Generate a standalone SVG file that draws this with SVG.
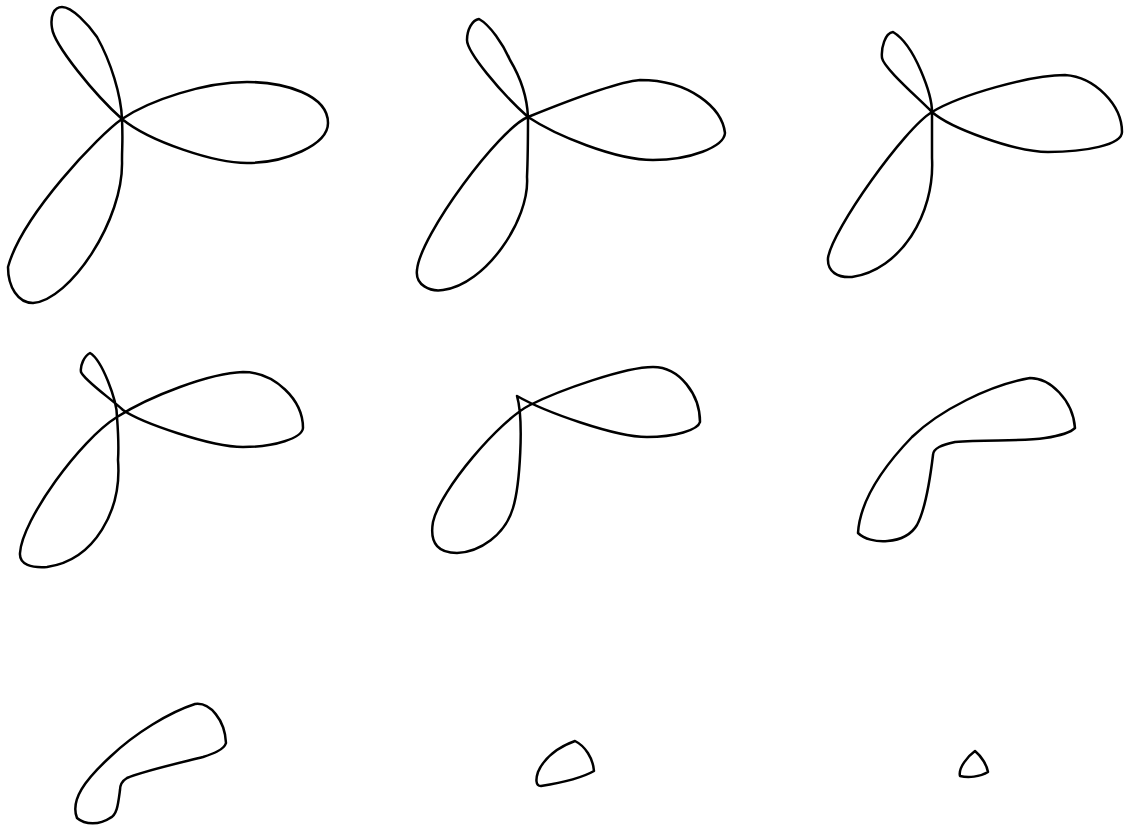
<svg xmlns="http://www.w3.org/2000/svg" width="1127" height="827" viewBox="0 0 1127 827">
<style>
.c{fill:none;stroke:#000;stroke-width:2.5;stroke-linejoin:round;stroke-linecap:round}
</style>
<rect width="1127" height="827" fill="#fff"/>
<g id="shape1"><path class="c" d="M122 119 C121 95 111 62 97 37 C88 24 72 7 62 7 C54 7 50 16 52 28 C54 45 95 95 122 119 C150 142 215 163 247 163 C285 163 328 145 328 123 C328 95 285 82 247 82 C205 82 150 100 122 119 C100 134 22 215 8 267 C8 287 18 303 33 303 C70 300 124 220 122 160 C122 145 123 143 122 119 Z"/></g>
<g id="shape2"><path class="c" d="M528 117 C527 95 519 75 510 60 C503 44 490 25 479 19 C472 20 467 30 467 40 C467 52 500 92 528 117 C555 135 615 160 653 160 C690 160 724 147 725 133 C722 108 690 80 640 80 C615 82 560 104 528 117 C500 128 420 235 417 270 C415 285 430 292 443 290 C485 285 530 220 527 177 C528 155 528 135 528 117 Z"/></g>
<g id="shape3"><path class="c" d="M932 112 C932 95 915 45 893 32 C885 33 881 48 882 58 C884 68 915 95 932 112 C950 128 1015 152 1048 152 C1085 152 1122 145 1122 132 C1122 105 1095 77 1065 75 C1030 75 960 95 932 112 C905 128 832 230 828 258 C827 272 838 278 852 277 C900 270 935 215 932 158 C932 145 932 125 932 112 Z"/></g>
<g id="shape4"><path class="c" d="M117 417 C117 400 102 360 90 353 C84 356 80 366 81 372 C84 380 110 398 123 410 C140 422 210 447 243 447 C275 447 302 438 303 428 C303 400 275 372 243 372 C210 373 150 396 117 417 C80 440 22 520 20 553 C19 565 32 568 47 567 C95 560 122 510 118 460 C119 445 118 430 117 417 Z"/></g>
<g id="shape5"><path class="c" d="M517 396 C545 412 615 437 647 437 C675 437 698 430 700 422 C700 395 680 367 653 367 C625 367 560 390 530 405 C500 420 440 490 433 522 C429 545 440 553 457 553 C480 552 505 535 513 508 C520 485 524 420 517 396 Z"/></g>
<g id="shape6"><path class="c" d="M1030 378 C1050 378 1073 400 1075 428 C1070 433 1058 436 1045 438 C1020 442 985 439 955 442 C942 445 933 448 933 455 C930 480 925 510 917 525 C905 545 870 545 858 533 C860 500 885 465 912 437 C940 410 990 385 1030 378 Z"/></g>
<g id="shape7"><path class="c" d="M195 704 C210 702 225 720 226 743 C224 750 212 754 203 757 C175 764 140 772 127 778 C122 781 120 785 120 790 C118 805 117 815 110 818 C100 825 85 825 77 818 C70 800 85 780 110 757 C135 733 170 712 195 704 Z"/></g>
<g id="shape8"><path class="c" d="M575 741 C585 746 593 758 594 771 C580 779 560 783 541 786 C535 786 536 778 538 772 C544 758 558 747 575 741 Z"/></g>
<g id="shape9"><path class="c" d="M975 751 C981 756 987 765 988 772 C980 777 968 778 960 776 C958 768 968 756 975 751 Z"/></g>
</svg>
